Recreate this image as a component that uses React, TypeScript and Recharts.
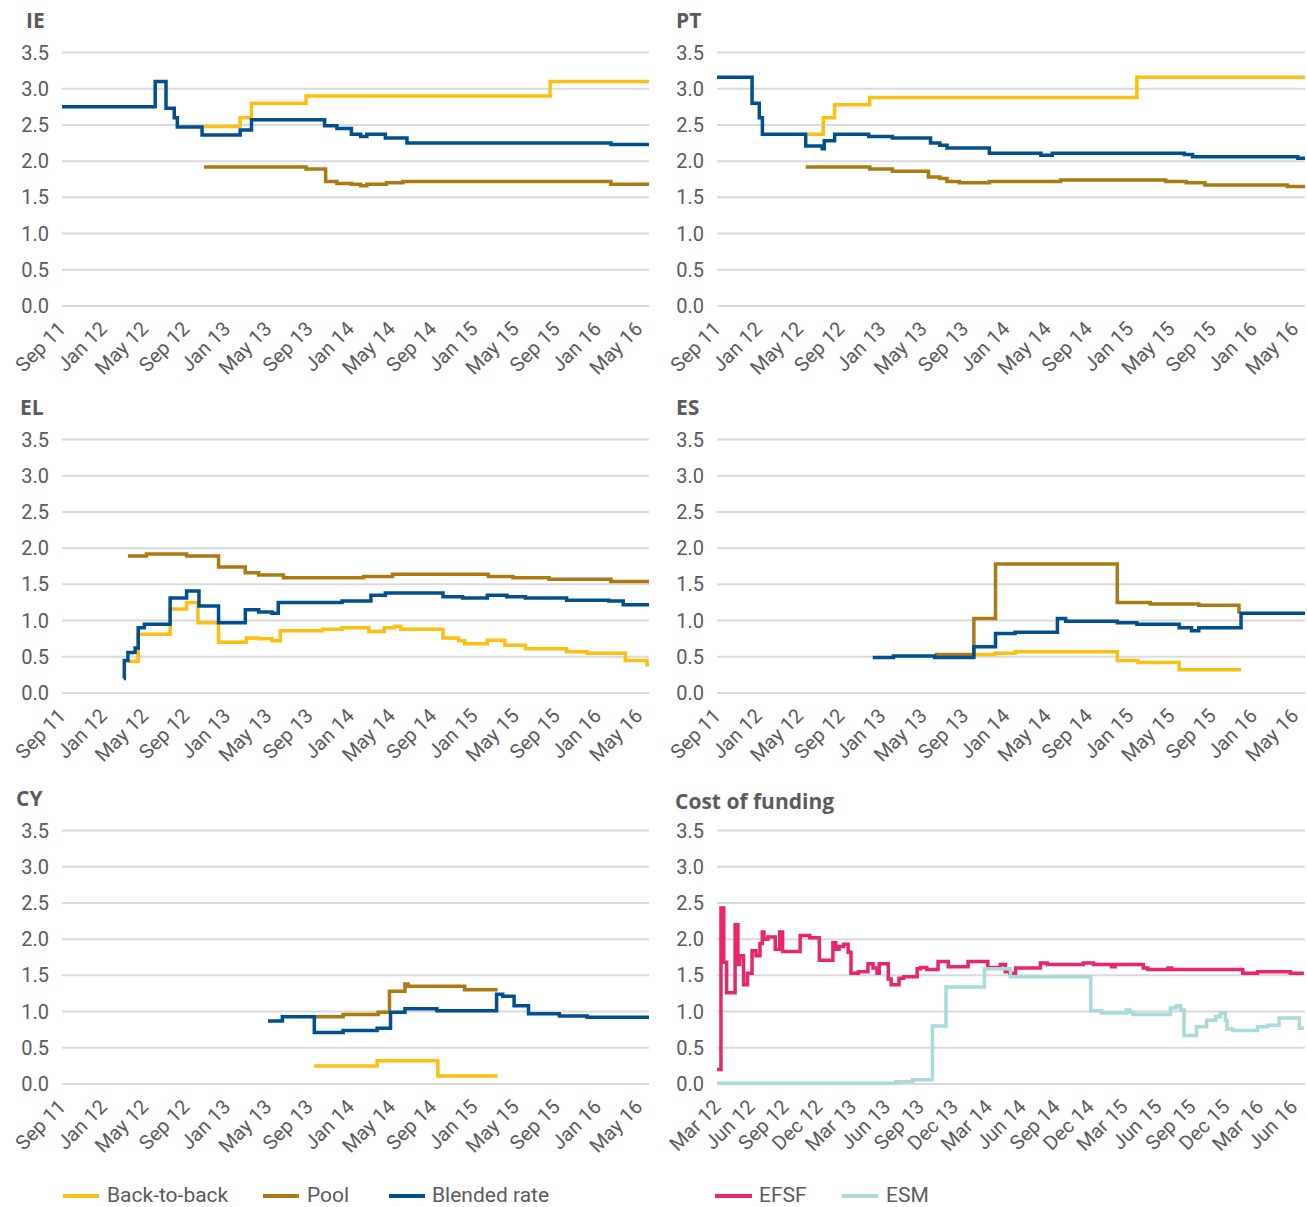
import { LineChart, Line, XAxis, YAxis, CartesianGrid } from 'recharts'

const TEXT = '#5b5b5b'
const FONT = 'Roboto, "Liberation Sans", sans-serif'
const TITLE_FONT = '"Open Sans", Roboto, sans-serif'
const C_B2B = '#FDBF12'
const C_POOL = '#AD7A12'
const C_BLEND = '#004F8E'
const C_EFSF = '#E9256C'
const C_ESM = '#A8DBD9'

const Y_TICKS = [0, 0.5, 1, 1.5, 2, 2.5, 3, 3.5]
// month index from Sep 11 (0), one tick every 4 months
const MONTH_TICKS = ['Sep 11', 'Jan 12', 'May 12', 'Sep 12', 'Jan 13', 'May 13', 'Sep 13', 'Jan 14', 'May 14', 'Sep 14', 'Jan 15', 'May 15', 'Sep 15', 'Jan 16', 'May 16']
// month index from Mar 12 (0), one tick every 3 months
const COF_TICKS = ['Mar 12', 'Jun 12', 'Sep 12', 'Dec 12', 'Mar 13', 'Jun 13', 'Sep 13', 'Dec 13', 'Mar 14', 'Jun 14', 'Sep 14', 'Dec 14', 'Mar 15', 'Jun 15', 'Sep 15', 'Dec 15', 'Mar 16', 'Jun 16']

type Pt = [number, number]

// [month, rate] change points, rate holds until the next point
const IE_B2B: Pt[] = [[13.8, 2.48], [17.3, 2.6], [18.4, 2.8], [23.7, 2.9], [47.4, 3.1], [57.2, 3.1]]
const IE_POOL: Pt[] = [[13.8, 1.92], [23.7, 1.89], [25.6, 1.72], [26.7, 1.69], [28.1, 1.68], [29.0, 1.66], [29.6, 1.68], [31.5, 1.7], [33.1, 1.72], [53.3, 1.68], [57.2, 1.68]]
const IE_BLEND: Pt[] = [[0, 2.75], [9.05, 3.1], [10.1, 2.73], [10.9, 2.6], [11.2, 2.47], [13.6, 2.36], [17.3, 2.43], [18.4, 2.57], [25.5, 2.49], [26.7, 2.45], [28.1, 2.37], [29.0, 2.34], [29.6, 2.37], [31.4, 2.32], [33.5, 2.25], [53.3, 2.23], [57.2, 2.23]]

const PT_B2B: Pt[] = [[8.8, 2.37], [10.3, 2.6], [11.4, 2.78], [14.8, 2.88], [40.7, 3.16], [57.5, 3.16]]
const PT_POOL: Pt[] = [[8.6, 1.92], [14.8, 1.89], [17.0, 1.86], [20.5, 1.78], [21.6, 1.76], [22.3, 1.72], [23.5, 1.7], [26.4, 1.72], [33.3, 1.74], [43.5, 1.72], [45.5, 1.7], [47.3, 1.67], [55.3, 1.65], [57.5, 1.65]]
const PT_BLEND: Pt[] = [[0, 3.16], [3.4, 2.8], [4.1, 2.6], [4.4, 2.37], [8.6, 2.21], [10.2, 2.17], [10.4, 2.28], [11.4, 2.37], [14.7, 2.34], [17.0, 2.32], [20.7, 2.25], [21.6, 2.22], [22.3, 2.18], [26.4, 2.11], [31.4, 2.08], [32.5, 2.11], [45.3, 2.09], [46.1, 2.06], [56.3, 2.04], [57.5, 2.04]]

const EL_B2B: Pt[] = [[6.4, 0.44], [7.4, 0.81], [10.5, 1.16], [12.1, 1.25], [13.2, 0.97], [15.2, 0.7], [17.9, 0.76], [19.1, 0.75], [20.4, 0.72], [21.2, 0.86], [25.3, 0.88], [27.2, 0.9], [29.8, 0.85], [31.3, 0.9], [32.3, 0.92], [32.9, 0.88], [37.0, 0.76], [38.5, 0.72], [39.1, 0.68], [41.3, 0.73], [43.0, 0.66], [45.0, 0.61], [49.0, 0.57], [51.0, 0.55], [54.7, 0.45], [56.8, 0.39], [57.2, 0.39]]
const EL_POOL: Pt[] = [[6.4, 1.89], [8.2, 1.92], [12.1, 1.89], [15.2, 1.74], [17.8, 1.66], [19.1, 1.63], [21.5, 1.59], [29.3, 1.61], [32.1, 1.64], [41.4, 1.61], [43.8, 1.59], [47.3, 1.57], [53.3, 1.54], [57.2, 1.54]]
const EL_BLEND: Pt[] = [[6.0, 0.2], [6.05, 0.45], [6.4, 0.56], [7.1, 0.62], [7.4, 0.9], [8.0, 0.95], [10.5, 1.31], [12.1, 1.41], [13.3, 1.2], [15.2, 0.97], [17.8, 1.15], [19.1, 1.12], [20.4, 1.1], [21.0, 1.25], [27.2, 1.27], [30.0, 1.35], [31.4, 1.38], [37.0, 1.33], [38.9, 1.31], [41.3, 1.35], [43.2, 1.33], [45.0, 1.31], [49.0, 1.28], [53.1, 1.27], [54.5, 1.22], [57.2, 1.22]]

const ES_B2B: Pt[] = [[24.9, 0.53], [26.9, 0.55], [28.9, 0.57], [38.8, 0.45], [40.8, 0.42], [44.8, 0.32], [50.8, 0.32]]
const ES_POOL: Pt[] = [[21.1, 0.53], [24.9, 1.03], [27.0, 1.78], [38.8, 1.25], [42.0, 1.23], [46.7, 1.21], [50.6, 1.12], [50.7, 1.12]]
const ES_BLEND: Pt[] = [[15.1, 0.49], [17.1, 0.51], [21.1, 0.49], [24.9, 0.64], [27.0, 0.82], [28.9, 0.84], [33.0, 1.03], [33.8, 0.99], [38.8, 0.97], [40.7, 0.95], [44.8, 0.9], [46.0, 0.86], [46.7, 0.9], [50.8, 1.1], [57.5, 1.1]]

const CY_B2B: Pt[] = [[24.5, 0.25], [30.6, 0.32], [36.5, 0.11], [42.3, 0.11]]
const CY_POOL: Pt[] = [[24.5, 0.93], [27.3, 0.96], [30.7, 0.99], [31.8, 1.28], [33.3, 1.38], [33.6, 1.35], [39.1, 1.3], [42.3, 1.3]]
const CY_BLEND: Pt[] = [[20.0, 0.87], [21.4, 0.93], [24.5, 0.71], [27.3, 0.74], [30.6, 0.77], [31.9, 0.99], [33.3, 1.04], [36.4, 1.01], [42.2, 1.24], [42.8, 1.21], [43.9, 1.08], [45.3, 0.97], [48.3, 0.94], [51.0, 0.92], [57.2, 0.92]]

const COF_EFSF: Pt[] = [[0, 0.2], [0.35, 2.43], [0.6, 1.68], [0.85, 1.26], [1.6, 2.2], [1.85, 1.65], [2.0, 1.77], [2.35, 1.37], [2.7, 1.53], [3.1, 1.84], [3.45, 1.77], [3.8, 1.94], [4.0, 2.1], [4.15, 2.0], [4.5, 2.03], [5.15, 1.86], [5.55, 2.1], [5.8, 1.83], [7.35, 2.05], [8.2, 2.02], [9.05, 1.71], [10.25, 1.95], [10.5, 1.86], [10.8, 1.9], [11.2, 1.93], [11.6, 1.82], [11.85, 1.53], [12.5, 1.55], [13.35, 1.66], [13.8, 1.6], [14.15, 1.53], [14.35, 1.66], [15.15, 1.45], [15.4, 1.37], [16.1, 1.46], [16.5, 1.48], [17.7, 1.59], [18.0, 1.61], [18.55, 1.58], [19.55, 1.69], [20.45, 1.62], [22.2, 1.69], [23.95, 1.61], [25.05, 1.65], [25.5, 1.55], [25.9, 1.53], [26.4, 1.6], [28.6, 1.67], [29.2, 1.65], [32.4, 1.67], [33.3, 1.65], [34.9, 1.62], [35.2, 1.65], [37.7, 1.6], [38.1, 1.58], [39.9, 1.6], [40.2, 1.58], [46.5, 1.53], [47.8, 1.55], [50.7, 1.53], [51.9, 1.53]]
const COF_ESM: Pt[] = [[0, 0.01], [15.8, 0.03], [17.3, 0.06], [19.05, 0.8], [20.25, 1.34], [23.65, 1.59], [25.95, 1.48], [33.05, 1.01], [34.0, 0.98], [36.2, 1.02], [36.5, 0.99], [36.8, 0.96], [40.1, 1.05], [40.6, 1.08], [41.0, 1.02], [41.3, 0.67], [42.4, 0.79], [43.3, 0.88], [44.1, 0.93], [44.5, 0.98], [44.95, 0.88], [45.1, 0.76], [45.6, 0.74], [47.8, 0.79], [48.7, 0.81], [49.7, 0.91], [51.5, 0.77], [51.9, 0.77]]

const toRows = (pts: Pt[]) => pts.map(([m, v]) => ({ m, v }))

function AngledTick({ x, y, payload, labels, step }: any) {
  const label = labels[Math.round(payload.value / step)]
  const tx = x + 5
  const ty = y + 24
  return (
    <text x={tx} y={ty} textAnchor="end" fill={TEXT} fontSize={20} fontFamily={FONT} transform={`rotate(-45 ${tx} ${ty})`}>
      {label}
    </text>
  )
}

type SeriesDef = { pts: Pt[]; color: string }

type PanelProps = {
  left: number
  top: number
  width: number
  plotTop: number
  plotBottom: number
  plotRight: number
  maxM: number
  labels: string[]
  step: number
  series: SeriesDef[]
}

function Panel({ left, top, width, plotTop, plotBottom, plotRight, maxM, labels, step, series }: PanelProps) {
  const height = plotBottom - top + 80
  const ticks = labels.map((_, i) => i * step)
  return (
    <div style={{ position: 'absolute', left, top }}>
      <LineChart width={width} height={height} margin={{ top: plotTop - top, right: left + width - plotRight, left: 0, bottom: 0 }}>
        <CartesianGrid vertical={false} stroke="#dadada" strokeWidth={2} />
        <XAxis
          type="number"
          dataKey="m"
          domain={[0, maxM]}
          ticks={ticks}
          interval={0}
          height={80}
          axisLine={false}
          tickLine={false}
          tickSize={0}
          tickMargin={0}
          allowDataOverflow
          tick={<AngledTick labels={labels} step={step} />}
        />
        <YAxis
          type="number"
          domain={[0, 3.5]}
          ticks={Y_TICKS}
          width={62}
          axisLine={false}
          tickLine={false}
          tickSize={0}
          tickMargin={13}
          tick={{ fill: TEXT, fontSize: 20, fontFamily: FONT }}
          tickFormatter={(v: number) => v.toFixed(1)}
        />
        {series.map((s, i) => (
          <Line
            key={i}
            data={toRows(s.pts)}
            dataKey="v"
            type="stepAfter"
            stroke={s.color}
            strokeWidth={3.5}
            dot={false}
            activeDot={false}
            isAnimationActive={false}
          />
        ))}
      </LineChart>
    </div>
  )
}

const ROWS = [
  { top: 0, plotTop: 52.5, plotBottom: 306 },
  { top: 390, plotTop: 439.5, plotBottom: 693 },
  { top: 780, plotTop: 830.5, plotBottom: 1084 },
]
const LEFT_COL = { left: 0, width: 660, plotRight: 649 }
const RIGHT_COL = { left: 655, width: 652, plotRight: 1305 }

export default function App() {
  const monthAxis = { maxM: 57, labels: MONTH_TICKS, step: 4 }
  const titleStyle = { fontFamily: TITLE_FONT, fontWeight: 700, fontSize: 21, fill: TEXT }
  const legendText = { fontFamily: FONT, fontSize: 21, fill: TEXT }
  return (
    <div style={{ position: 'absolute', left: 0, top: 0, width: 1307, height: 1207, background: '#fff', overflow: 'hidden' }}>
      <Panel {...LEFT_COL} {...ROWS[0]} {...monthAxis} series={[{ pts: IE_B2B, color: C_B2B }, { pts: IE_POOL, color: C_POOL }, { pts: IE_BLEND, color: C_BLEND }]} />
      <Panel {...RIGHT_COL} {...ROWS[0]} {...monthAxis} series={[{ pts: PT_B2B, color: C_B2B }, { pts: PT_POOL, color: C_POOL }, { pts: PT_BLEND, color: C_BLEND }]} />
      <Panel {...LEFT_COL} {...ROWS[1]} {...monthAxis} series={[{ pts: EL_B2B, color: C_B2B }, { pts: EL_POOL, color: C_POOL }, { pts: EL_BLEND, color: C_BLEND }]} />
      <Panel {...RIGHT_COL} {...ROWS[1]} {...monthAxis} series={[{ pts: ES_B2B, color: C_B2B }, { pts: ES_POOL, color: C_POOL }, { pts: ES_BLEND, color: C_BLEND }]} />
      <Panel {...LEFT_COL} {...ROWS[2]} {...monthAxis} series={[{ pts: CY_B2B, color: C_B2B }, { pts: CY_POOL, color: C_POOL }, { pts: CY_BLEND, color: C_BLEND }]} />
      <Panel {...RIGHT_COL} {...ROWS[2]} maxM={52} labels={COF_TICKS} step={3} series={[{ pts: COF_EFSF, color: C_EFSF }, { pts: COF_ESM, color: C_ESM }]} />

      <svg width={1307} height={1207} style={{ position: 'absolute', left: 0, top: 0, pointerEvents: 'none' }}>
        <text x={26} y={28} {...titleStyle}>IE</text>
        <text x={676} y={28} {...titleStyle}>PT</text>
        <text x={20} y={415} {...titleStyle}>EL</text>
        <text x={676} y={415} {...titleStyle}>ES</text>
        <text x={16} y={806} {...titleStyle}>CY</text>
        <text x={675} y={809} {...titleStyle}>Cost of funding</text>

        <line x1={63} x2={99} y1={1196} y2={1196} stroke={C_B2B} strokeWidth={4} />
        <text x={107} y={1202} {...legendText}>Back-to-back</text>
        <line x1={263} x2={299} y1={1196} y2={1196} stroke={C_POOL} strokeWidth={4} />
        <text x={307} y={1202} {...legendText}>Pool</text>
        <line x1={389} x2={425} y1={1196} y2={1196} stroke={C_BLEND} strokeWidth={4} />
        <text x={432} y={1202} {...legendText}>Blended rate</text>
        <line x1={715} x2={752} y1={1196} y2={1196} stroke={C_EFSF} strokeWidth={4} />
        <text x={759} y={1202} {...legendText}>EFSF</text>
        <line x1={842} x2={878} y1={1196} y2={1196} stroke={C_ESM} strokeWidth={4} />
        <text x={886} y={1202} {...legendText}>ESM</text>
      </svg>
    </div>
  )
}
